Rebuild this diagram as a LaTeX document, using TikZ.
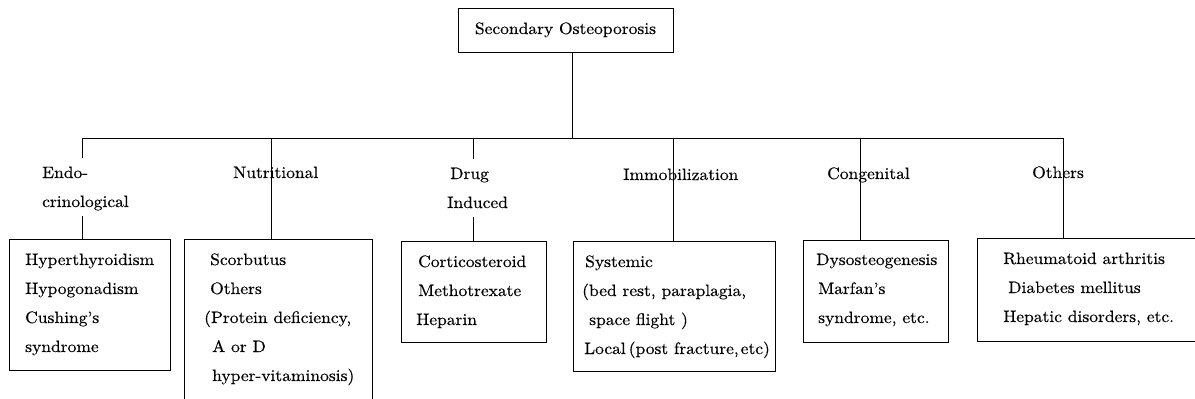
\documentclass[tikz,border=0pt]{standalone}
\usepackage{fontspec}
\setmainfont{lmroman10-regular.otf}[FakeStretch=1.06,FakeBold=0.4]
\usepackage{array}
\begin{document}
\begin{tikzpicture}[x=1pt,y=-1pt,
  box/.style={draw, line width=0.9pt, anchor=north west, inner sep=0pt},
  lbl/.style={inner sep=0pt, font=\fontsize{16.5}{29}\selectfont},
  conn/.style={line width=0.9pt},
]
\useasboundingbox (0,0) rectangle (1195,399);
\fill[white] (0,0) rectangle (1195,399);

% boxes
\node[box, minimum width=215pt, minimum height=44pt] (top) at (458,8) {};
\node[box, minimum width=161pt, minimum height=131pt] (b1) at (9,239) {};
\node[box, minimum width=188pt, minimum height=163pt] (b2) at (184,239) {};
\node[box, minimum width=145pt, minimum height=101pt] (b3) at (401,241) {};
\node[box, minimum width=202pt, minimum height=130pt] (b4) at (573,241) {};
\node[box, minimum width=145pt, minimum height=102pt] (b5) at (803,240) {};
\node[box, minimum width=222pt, minimum height=103pt] (b6) at (977,238) {};

% junctions on the bus
\coordinate (j0) at (572,138);
\coordinate (j1) at (82,138);
\coordinate (j2) at (271,138);
\coordinate (j3) at (473,138);
\coordinate (j4) at (673,138);
\coordinate (j5) at (860,138);
\coordinate (j6) at (1063,138);

% connectors
\draw[conn] (j0 |- top.south) -- (j0);
\draw[conn] (j1) -- (j6);
\draw[conn] (j1) -- (j1 |- b1.north);
\draw[conn] (j2) -- (j2 |- b2.north);
\draw[conn] (j3) -- (j3 |- b3.north);
\draw[conn] (j4) -- (j4 |- b4.north);
\draw[conn] (j5) -- (j5 |- b5.north);
\draw[conn] (j6) -- (j6 |- b6.north);

% title
\node[lbl, anchor=base] (toptxt) at (565.5,34) {Secondary Osteoporosis};

% category labels
\node[lbl, anchor=base west, fill=white] (l1) at (42,178)
  {\begin{tabular}[t]{@{}l@{}}Endo-\\crinological\end{tabular}};
\node[lbl, anchor=base west] (l2) at (233,178) {Nutritional};
\node[lbl, anchor=base west, fill=white] (l3) at (447,179)
  {\begin{tabular}[t]{@{}l@{}}\hspace*{3pt}Drug\\Induced\end{tabular}};
\node[lbl, anchor=base west] (l4) at (623,180) {Immobilization};
\node[lbl, anchor=base west] (l5) at (827,179) {Congenital};
\node[lbl, anchor=base west] (l6) at (1032,178) {Others};

% box contents
\node[lbl, anchor=base west] (t1) at (25,265)
  {\begin{tabular}[t]{@{}l@{}}Hyperthyroidism\\Hypogonadism\\Cushing's\\syndrome\end{tabular}};
\node[lbl, anchor=base west] (t2) at (204,265)
  {\begin{tabular}[t]{@{}l@{}}\hspace*{6pt}Scorbutus\\\hspace*{6pt}Others\\(Protein deficiency,\\\hspace*{8pt}A or D\\\hspace*{8pt}hyper-vitaminosis)\end{tabular}};
\node[lbl, anchor=base west] (t3) at (416,267)
  {\begin{tabular}[t]{@{}l@{}}\hspace*{2pt}Corticosteroid\\\hspace*{2pt}Methotrexate\\Heparin\end{tabular}};
\node[lbl, anchor=base west] (t4) at (582,267)
  {\begin{tabular}[t]{@{}l@{}}\hspace*{3pt}Systemic\\(bed rest, paraplagia,\\\hspace*{7pt}space flight )\\\hspace*{2pt}Local\hspace{3pt}(post fracture,\hspace{2pt}etc)\end{tabular}};
\node[lbl, anchor=base west] (t5) at (816,265)
  {\begin{tabular}[t]{@{}l@{}}Dysosteogenesis\\\hspace*{2pt}Marfan's\\\hspace*{2pt}syndrome, etc.\end{tabular}};
\node[lbl, anchor=base west] (t6) at (1003,264)
  {\begin{tabular}[t]{@{}l@{}}Rheumatoid arthritis\\\hspace*{5pt}Diabetes mellitus\\Hepatic disorders, etc.\end{tabular}};
\end{tikzpicture}
\end{document}
